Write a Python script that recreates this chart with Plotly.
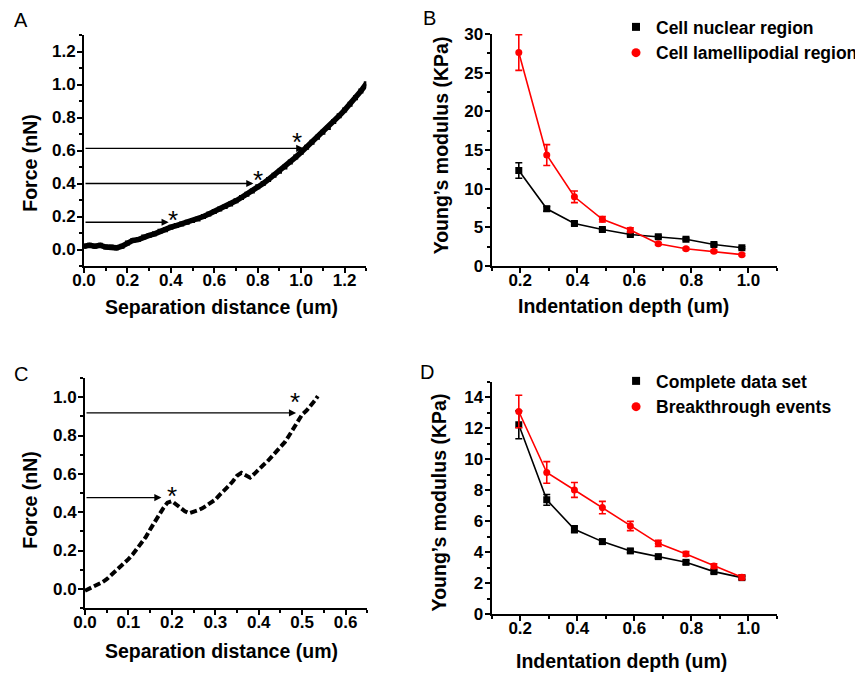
import plotly.graph_objects as go

W, H = 863, 675          # reference pixel frame
OFF = 8                  # browser body margin
FW, FH = W - OFF, H - OFF  # figure size
FONT = "Liberation Sans"

# ---------------- Panel A data ----------------
a_sep = [0.000, 0.025, 0.050, 0.075, 0.100, 0.125, 0.150, 0.175, 0.200, 0.225, 0.250, 0.275,
         0.300, 0.325, 0.350, 0.375, 0.400, 0.425, 0.450, 0.475, 0.500, 0.525, 0.550, 0.575,
         0.600, 0.625, 0.650, 0.675, 0.700, 0.725, 0.750, 0.775, 0.800, 0.825, 0.850, 0.875,
         0.900, 0.925, 0.950, 0.975, 1.000, 1.025, 1.050, 1.075, 1.100, 1.125, 1.150, 1.175,
         1.200, 1.225, 1.250, 1.275, 1.300]
a_force = [0.020, 0.025, 0.020, 0.025, 0.015, 0.015, 0.010, 0.020, 0.040, 0.055, 0.060, 0.075,
           0.085, 0.095, 0.110, 0.120, 0.135, 0.145, 0.155, 0.165, 0.175, 0.185, 0.200, 0.215,
           0.230, 0.245, 0.260, 0.275, 0.295, 0.315, 0.335, 0.355, 0.380, 0.400, 0.425, 0.450,
           0.475, 0.500, 0.530, 0.560, 0.590, 0.620, 0.650, 0.680, 0.710, 0.740, 0.775, 0.810,
           0.845, 0.880, 0.920, 0.960, 1.005]
a_arrow_end_x = [0.39, 0.78, 1.01]
a_arrow_y = [0.165, 0.400, 0.613]
a_star_x = [0.41, 0.80, 0.98]
a_star_y = [0.215, 0.455, 0.685]

# ---------------- Panel C data ----------------
c_sep = [0.00, 0.01, 0.02, 0.03, 0.04, 0.05, 0.06, 0.07, 0.08, 0.09, 0.10, 0.11, 0.12, 0.13,
         0.14, 0.15, 0.16, 0.17, 0.18, 0.19, 0.20, 0.21, 0.22, 0.23, 0.24, 0.25, 0.26, 0.27,
         0.28, 0.29, 0.30, 0.31, 0.32, 0.33, 0.34, 0.35, 0.36, 0.37, 0.38, 0.39, 0.40, 0.41,
         0.42, 0.43, 0.44, 0.45, 0.46, 0.47, 0.48, 0.49, 0.50, 0.51, 0.52, 0.53, 0.536]
c_force = [-0.010, 0.000, 0.010, 0.020, 0.035, 0.050, 0.070, 0.090, 0.110, 0.130, 0.155, 0.180,
           0.210, 0.240, 0.270, 0.310, 0.350, 0.385, 0.420, 0.450, 0.458, 0.440, 0.420, 0.405,
           0.395, 0.400, 0.410, 0.420, 0.435, 0.450, 0.465, 0.490, 0.510, 0.535, 0.560, 0.590,
           0.605, 0.590, 0.580, 0.600, 0.625, 0.645, 0.665, 0.690, 0.710, 0.735, 0.765, 0.800,
           0.840, 0.875, 0.910, 0.930, 0.955, 0.985, 1.005]
c_arrow_end_x = [0.176, 0.486]
c_arrow_y = [0.476, 0.918]
c_star_x = [0.200, 0.483]
c_star_y = [0.515, 1.005]

# ---------------- Panel B data ----------------
depth = [0.195, 0.293, 0.390, 0.488, 0.586, 0.684, 0.781, 0.879, 0.977]
b_nuclear = [12.35, 7.40, 5.50, 4.72, 4.08, 3.78, 3.45, 2.78, 2.36]
b_nuclear_err = [1.00, 0.30, 0.20, 0.15, 0.15, 0.15, 0.15, 0.15, 0.12]
b_lamelli = [27.6, 14.35, 8.95, 6.03, 4.65, 2.88, 2.24, 1.90, 1.47]
b_lamelli_err = [2.30, 1.35, 0.75, 0.35, 0.30, 0.15, 0.15, 0.15, 0.15]

# ---------------- Panel D data ----------------
d_complete = [12.23, 7.38, 5.48, 4.68, 4.08, 3.71, 3.34, 2.74, 2.35]
d_complete_err = [0.90, 0.35, 0.22, 0.15, 0.12, 0.10, 0.12, 0.10, 0.10]
d_break = [13.09, 9.15, 8.02, 6.88, 5.69, 4.57, 3.88, 3.10, 2.37]
d_break_err = [1.05, 0.70, 0.48, 0.40, 0.30, 0.20, 0.15, 0.15, 0.15]

RED = "#ff0000"
fig = go.Figure()

# Panel A curve
fig.add_trace(go.Scatter(x=a_sep, y=a_force, mode="lines+markers",
                         line=dict(color="black", width=5.5),
                         marker=dict(symbol="square", size=5, color="black"),
                         xaxis="x", yaxis="y", showlegend=False))
# Panel C curve
fig.add_trace(go.Scatter(x=c_sep, y=c_force, mode="lines",
                         line=dict(color="black", width=4, dash="7px,3px"),
                         xaxis="x3", yaxis="y3", showlegend=False))


def series(xs, ys, err, color, symbol, xa, ya):
    return go.Scatter(x=xs, y=ys, mode="lines+markers",
                      line=dict(color=color, width=1.6),
                      marker=dict(symbol=symbol, size=7, color=color),
                      error_y=dict(type="data", array=err, color=color, thickness=1.6, width=3.5),
                      xaxis=xa, yaxis=ya, showlegend=False)


def legend_entry(name, color, symbol, size, xa, ya, leg):
    return go.Scatter(x=[None], y=[None], mode="markers", name=name,
                      marker=dict(symbol=symbol, size=size, color=color),
                      xaxis=xa, yaxis=ya, legend=leg)


# Panel B
fig.add_trace(series(depth, b_nuclear, b_nuclear_err, "black", "square", "x2", "y2"))
fig.add_trace(series(depth, b_lamelli, b_lamelli_err, RED, "circle", "x2", "y2"))
fig.add_trace(legend_entry("Cell nuclear region", "black", "square", 8, "x2", "y2", "legend"))
fig.add_trace(legend_entry("Cell lamellipodial region", RED, "circle", 9, "x2", "y2", "legend"))

# Panel D
fig.add_trace(series(depth, d_complete, d_complete_err, "black", "square", "x4", "y4"))
fig.add_trace(series(depth, d_break, d_break_err, RED, "circle", "x4", "y4"))
fig.add_trace(legend_entry("Complete data set", "black", "square", 8, "x4", "y4", "legend2"))
fig.add_trace(legend_entry("Breakthrough events", RED, "circle", 9, "x4", "y4", "legend2"))

tickfont = dict(family=FONT, size=17, color="black", weight="bold")


def PX(p):
    return (p - OFF) / FW


def PY(p):
    return 1 - (p - OFF) / FH


def ax(domain, rng, dtick, tick0, minor_dtick, anchor, fmt, standoff):
    return dict(domain=domain, range=rng, dtick=dtick, tick0=tick0, tickformat=fmt,
                showline=True, linecolor="black", linewidth=2,
                ticks="outside", ticklen=5, tickwidth=2, tickcolor="black",
                minor=dict(dtick=minor_dtick, ticks="outside", ticklen=3, tickwidth=1.5, tickcolor="black"),
                showgrid=False, zeroline=False, tickfont=tickfont, ticklabelstandoff=standoff,
                anchor=anchor, automargin=False, fixedrange=True)


layout = dict(
    width=FW, height=FH, margin=dict(l=0, r=0, t=0, b=0), autosize=False,
    paper_bgcolor="white", plot_bgcolor="white",
    xaxis=ax([PX(85), PX(371)], [0, 1.3], 0.2, 0, 0.1, "y", ".1f", -7),
    yaxis=ax([PY(266), PY(35)], [-0.1, 1.3], 0.2, 0, 0.1, "x", ".1f", -2),
    xaxis2=ax([PX(498), PX(787)], [0.1, 1.1], 0.2, 0.2, 0.1, "y2", ".1f", -7),
    yaxis2=ax([PY(266), PY(34)], [0, 30], 5, 0, 2.5, "x2", "d", -2),
    xaxis3=ax([PX(86), PX(372)], [0, 0.65], 0.1, 0, 0.05, "y3", ".1f", -7),
    yaxis3=ax([PY(608), PY(378)], [-0.1, 1.1], 0.2, 0, 0.1, "x3", ".1f", -2),
    xaxis4=ax([PX(498), PX(787)], [0.1, 1.1], 0.2, 0.2, 0.1, "y4", ".1f", -7),
    yaxis4=ax([PY(614), PY(382)], [0, 15], 2, 0, 1, "x4", "d", -2),
    legend=dict(x=PX(624), y=PY(9), xanchor="left", yanchor="top",
                font=dict(family=FONT, size=17.5, color="black", weight="bold"),
                bgcolor="rgba(0,0,0,0)", tracegroupgap=0, itemwidth=30),
    legend2=dict(x=PX(624), y=PY(363), xanchor="left", yanchor="top",
                 font=dict(family=FONT, size=17.5, color="black", weight="bold"),
                 bgcolor="rgba(0,0,0,0)", tracegroupgap=0, itemwidth=30),
)
fig.update_layout(**layout)

ann = []
star_font = dict(family=FONT, size=26, color="black")
for xe, yy in zip(a_arrow_end_x, a_arrow_y):
    ann.append(dict(x=xe, y=yy, ax=0, ay=yy, xref="x", yref="y", axref="x", ayref="y",
                    text="", showarrow=True, arrowhead=2, arrowsize=1.1, arrowwidth=1.3, arrowcolor="black"))
for sx, sy in zip(a_star_x, a_star_y):
    ann.append(dict(x=sx, y=sy, xref="x", yref="y", text="*", showarrow=False, yshift=-6, font=star_font))
for xe, yy in zip(c_arrow_end_x, c_arrow_y):
    ann.append(dict(x=xe, y=yy, ax=0, ay=yy, xref="x3", yref="y3", axref="x3", ayref="y3",
                    text="", showarrow=True, arrowhead=2, arrowsize=1.1, arrowwidth=1.3, arrowcolor="black"))
for sx, sy in zip(c_star_x, c_star_y):
    ann.append(dict(x=sx, y=sy, xref="x3", yref="y3", text="*", showarrow=False, yshift=-6, font=star_font))

title_font = dict(family=FONT, size=19.5, color="black", weight="bold")


def paper_text(text, xpx, ypx, font, angle=0):
    return dict(x=PX(xpx), y=PY(ypx), xref="paper", yref="paper", text=text, showarrow=False,
                textangle=angle, xanchor="center", yanchor="middle", font=font)


ann += [
    paper_text("Separation distance (um)", 224, 307, title_font),
    paper_text("Force (nN)", 30, 163, title_font, -90),
    paper_text("Indentation depth (um)", 632, 306, title_font),
    paper_text("Young’s modulus (KPa)", 447, 145, title_font, -90),
    paper_text("Separation distance (um)", 224, 651, title_font),
    paper_text("Force (nN)", 30, 500, title_font, -90),
    paper_text("Indentation depth (um)", 630, 661, title_font),
    paper_text("Young’s modulus (KPa)", 445, 502, title_font, -90),
]
letter_font = dict(family=FONT, size=20, color="black")
ann += [
    paper_text("A", 21, 20, letter_font),
    paper_text("B", 435, 18, letter_font),
    paper_text("C", 21, 374, letter_font),
    paper_text("D", 432, 372, letter_font),
]
fig.update_layout(annotations=ann)

fig.write_html("out.html")
